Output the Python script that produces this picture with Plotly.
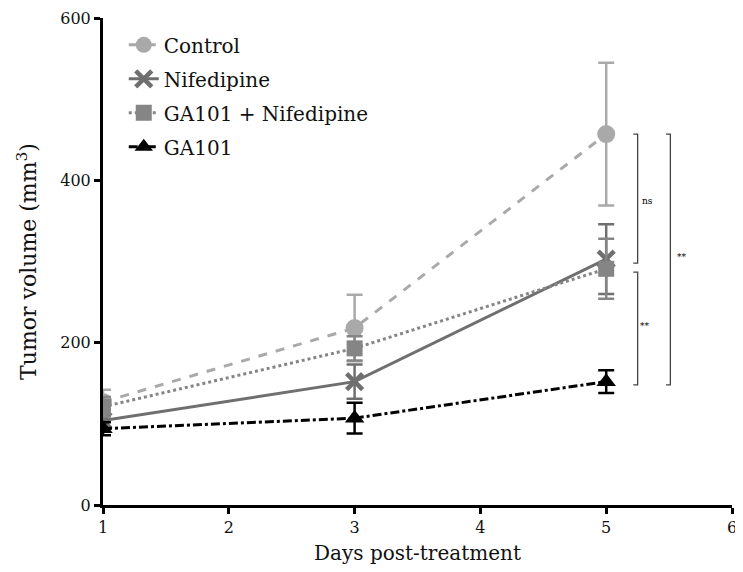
import plotly.graph_objects as go

days = [1, 3, 5]
control = [127, 218, 457]
control_err = [15, 41, 88]
nifedipine = [104, 152, 303]
nifedipine_err = [10, 21, 43]
ga101_nif = [121, 193, 291]
ga101_nif_err = [12, 15, 37]
ga101 = [94, 107, 152]
ga101_err = [8, 19, 14]

series_names = ["Control", "Nifedipine", "GA101 + Nifedipine", "GA101"]

FONT = "DejaVu Serif"

fig = go.Figure()

def add(name, y, err, color, dash, symbol, size, lw=0):
    fig.add_trace(go.Scatter(
        x=days, y=y, name=name, mode="lines+markers", legendgroup=name,
        line=dict(color=color, width=3, dash=dash),
        marker=dict(color=color, symbol=symbol, size=size,
                    line=dict(width=lw, color=color)),
        error_y=dict(type="data", array=err, visible=True, color=color,
                     thickness=2.5, width=8),
    ))

add(series_names[0], control, control_err, "#a9a9a9", "dash", "circle", 18)
add(series_names[1], nifedipine, nifedipine_err, "#6f6f6f", "solid", "x-thin-open", 16, 4.5)
add(series_names[2], ga101_nif, ga101_nif_err, "#858585", "dot", "square", 16)
add(series_names[3], ga101, ga101_err, "#000000", "dashdot", "triangle-up", 17)

# significance brackets
brackets = [
    (5.25, 457, 298, "ns", 5.33, 374),
    (5.25, 287, 148, "**", 5.31, 220),
    (5.51, 457, 148, "**", 5.60, 305),
]
for xb, ytop, ybot, label, xt, yt in brackets:
    fig.add_shape(type="path",
                  path=f"M {xb-0.035},{ytop} L {xb},{ytop} L {xb},{ybot} L {xb-0.035},{ybot}",
                  line=dict(color="#444444", width=1.3))
    fig.add_annotation(x=xt, y=yt, text=label, showarrow=False,
                       font=dict(family=FONT, size=9, color="#000000"))

# the page body adds an 8px offset; margins compensate for it
fig.update_layout(
    width=743, height=572,
    margin=dict(l=95, r=19, t=10, b=75),
    paper_bgcolor="white", plot_bgcolor="white",
    font=dict(family=FONT, color="#111111"),
    legend=dict(x=0.033, y=0.985, xanchor="left", yanchor="top",
                font=dict(size=20, family=FONT),
                bgcolor="rgba(0,0,0,0)", tracegroupgap=5,
                itemwidth=30),
    showlegend=True,
)
fig.update_xaxes(range=[1, 6], tickvals=[1, 2, 3, 4, 5, 6],
                 showline=True, linecolor="black", linewidth=3,
                 ticks="outside", ticklen=6, tickwidth=3, tickcolor="black",
                 showgrid=False, zeroline=False, automargin=False,
                 ticklabeloverflow="allow",
                 tickfont=dict(size=16, family=FONT),
                 title=dict(text="Days post-treatment", font=dict(size=20, family=FONT), standoff=10))
fig.update_yaxes(range=[0, 600], tickvals=[0, 200, 400, 600],
                 showline=True, linecolor="black", linewidth=3,
                 ticks="outside", ticklen=6, tickwidth=3, tickcolor="black",
                 showgrid=False, zeroline=False, automargin=False,
                 ticklabeloverflow="allow",
                 tickfont=dict(size=16, family=FONT),
                 title=dict(text="Tumor volume (mm<sup>3</sup>)", font=dict(size=22, family=FONT), standoff=18))

fig.write_html("out.html")
